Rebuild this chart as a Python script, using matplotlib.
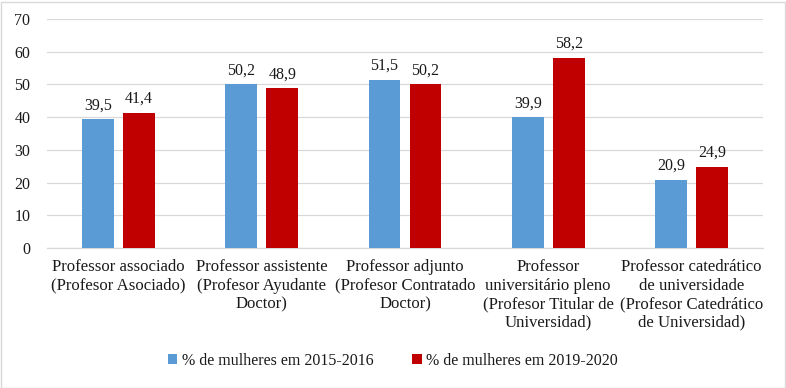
import matplotlib
matplotlib.use("Agg")
import matplotlib.pyplot as plt
import numpy as np

categories = [
    "Professor associado\n(Profesor Asociado)",
    "Professor assistente\n(Profesor Ayudante\nDoctor)",
    "Professor adjunto\n(Profesor Contratado\nDoctor)",
    "Professor\nuniversitário pleno\n(Profesor Titular de\nUniversidad)",
    "Professor catedrático\nde universidade\n(Profesor Catedrático\nde Universidad)",
]
series_names = ["% de mulheres em 2015-2016", "% de mulheres em 2019-2020"]
values_2015 = [39.5, 50.2, 51.5, 39.9, 20.9]
values_2019 = [41.4, 48.9, 50.2, 58.2, 24.9]
yticks = [0, 10, 20, 30, 40, 50, 60, 70]

colors = ["#5B9BD5", "#C00000"]
font = "Liberation Serif"
fs = 11.5
plt.rcParams['font.family'] = [font, 'DejaVu Serif']

fig = plt.figure(figsize=(7.86, 3.88), dpi=100)
ax = fig.add_axes([47/786, (388-248)/388, (763-47)/786, (248-19)/388])

x = np.arange(len(categories))
w = 0.223
off = 0.143
b1 = ax.bar(x - off, values_2015, w, color=colors[0], label=series_names[0], zorder=3)
b2 = ax.bar(x + off, values_2019, w, color=colors[1], label=series_names[1], zorder=3)

for bars, vals in ((b1, values_2015), (b2, values_2019)):
    for r, v in zip(bars, vals):
        ax.annotate(f"{v:.1f}".replace(".", ","), (r.get_x() + r.get_width()/2, v),
                    xytext=(0, 4), textcoords="offset points", ha="center", va="bottom",
                    fontsize=fs, color="#1a1a1a")

ax.set_xlim(-0.5, len(categories) - 0.5)
ax.set_ylim(0, 70)
ax.set_yticks(yticks)
ax.set_yticklabels([str(t) for t in yticks], fontsize=fs, color="#1a1a1a")
ax.set_xticks(x)
ax.set_xticklabels(categories, fontsize=12.1, color="#1a1a1a", linespacing=1.2, va="top")
ax.tick_params(axis="both", length=0)
ax.tick_params(axis="y", pad=12)
ax.tick_params(axis="x", pad=8)
ax.yaxis.grid(True, color="#d9d9d9", linewidth=0.9, zorder=0)
ax.set_axisbelow(True)
for s in ["top", "right", "left"]:
    ax.spines[s].set_visible(False)
ax.spines["bottom"].set_color("#d9d9d9")
ax.spines["bottom"].set_linewidth(0.9)

leg = fig.legend(handles=[b1, b2], labels=series_names, loc="center",
                 bbox_to_anchor=(393/786, 1 - 361/388), ncol=2, frameon=False,
                 fontsize=fs, handlelength=0.6, handleheight=0.6, handletextpad=0.3,
                 columnspacing=2.4)
for t in leg.get_texts():
    t.set_color("#1a1a1a")

border = plt.Rectangle((0.5/786, 0.5/388), 784/786, 386/388, transform=fig.transFigure,
                       fill=False, edgecolor="#d9d9d9", linewidth=1.0)
fig.patches.append(border)

fig.savefig("out.png", dpi=100)
